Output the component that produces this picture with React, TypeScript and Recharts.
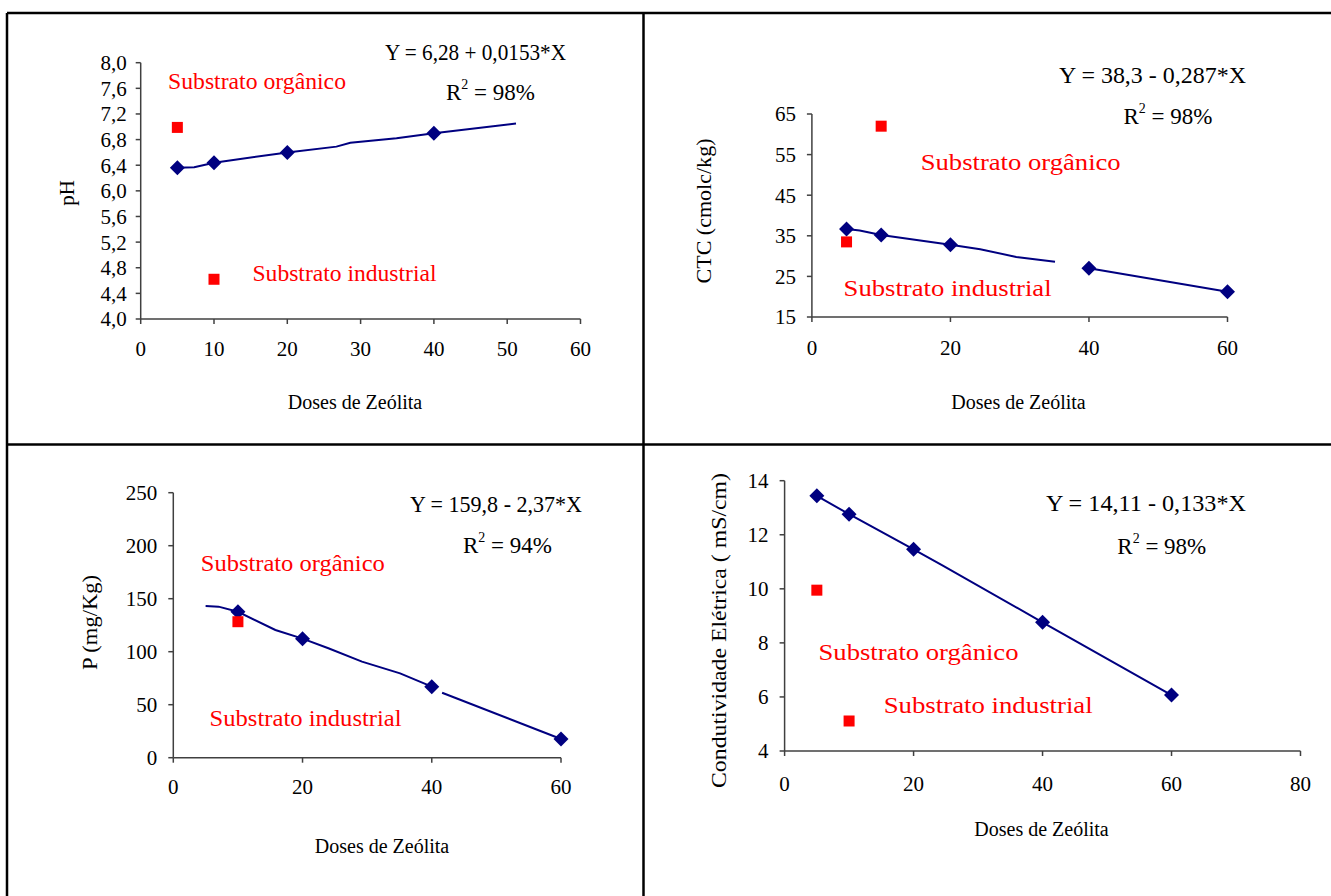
import { Scatter, ScatterChart, XAxis, YAxis } from "recharts";

const NAVY = "#000080";
const RED = "#ff0000";
const SERIF = "'Times New Roman', 'Liberation Serif', serif";

// pH
const phDoses = [5, 10, 20, 40];
const phValues = [6.36, 6.44, 6.6, 6.9];
const phRefDoses = [5, 10];
const phRefValues = [6.99, 4.62];
const phFitX = [5, 7.3, 10, 20, 26.7, 28.6, 34.9, 40, 51.2];
const phFitY = [6.36, 6.37, 6.44, 6.6, 6.69, 6.75, 6.82, 6.9, 7.05];
const phTicksY = [4, 4.4, 4.8, 5.2, 5.6, 6, 6.4, 6.8, 7.2, 7.6, 8];
const phTicksX = [0, 10, 20, 30, 40, 50, 60];

// CTC
const ctcDoses = [5, 10, 20, 40, 60];
const ctcValues = [36.7, 35.2, 32.8, 27.0, 21.2];
const ctcRefDoses = [5, 10];
const ctcRefValues = [33.5, 62.0];
const ctcFitX = [5, 6.9, 10, 20, 24.3, 29.5, 35.1];
const ctcFitY = [36.7, 36.3, 35.2, 32.8, 31.7, 29.8, 28.6];
const ctcFit2X = [40, 60];
const ctcFit2Y = [27.0, 21.2];
const ctcTicksY = [15, 25, 35, 45, 55, 65];
const ctcTicksX = [0, 20, 40, 60];

// P
const pDoses = [10, 20, 40, 60];
const pValues = [137.7, 112.3, 67.0, 17.6];
const pRefDoses = [10];
const pRefValues = [128.3];
const pFitX = [5, 7, 10, 15.8, 20, 24, 29.2, 35.1, 40];
const pFitY = [143, 142.5, 137.7, 120.5, 112.3, 103.2, 90.6, 79.6, 67.0];
const pFit2X = [41.6, 60];
const pFit2Y = [61.3, 17.6];
const pTicksY = [0, 50, 100, 150, 200, 250];
const pTicksX = [0, 20, 40, 60];

// Condutividade elétrica
const ceDoses = [5, 10, 20, 40, 60];
const ceValues = [13.44, 12.76, 11.46, 8.76, 6.07];
const ceRefDoses = [5, 10];
const ceRefValues = [9.95, 5.11];
const ceFitX = [5, 10, 20, 24.4, 40, 60];
const ceFitY = [13.44, 12.76, 11.46, 10.88, 8.76, 6.07];
const ceTicksY = [4, 6, 8, 10, 12, 14];
const ceTicksX = [0, 20, 40, 60, 80];

type Pt = { x: number; y: number };

const zip = (xs: number[], ys: number[]): Pt[] =>
  xs.map((x, i) => ({ x, y: ys[i] }));

const Diamond = (props: any) => {
  const { cx, cy } = props;
  const r = 7.5;
  return (
    <polygon
      points={`${cx},${cy - r} ${cx + r},${cy} ${cx},${cy + r} ${cx - r},${cy}`}
      fill={NAVY}
    />
  );
};

const Square = (props: any) => {
  const { cx, cy } = props;
  return <rect x={cx - 5.5} y={cy - 5.5} width={11} height={11} fill={RED} />;
};

const NoDot = () => <g />;

type PanelProps = {
  box: [number, number, number, number];
  plot: [number, number, number, number];
  xTicks: number[];
  yTicks: number[];
  yFormat?: (v: number) => string;
  fits: Pt[][];
  means: Pt[];
  refs: Pt[];
  yMargin: number;
  xMargin: number;
};

const Y_AXIS_W = 60;
const X_AXIS_H = 40;

function Panel({
  box,
  plot,
  xTicks,
  yTicks,
  yFormat,
  fits,
  means,
  refs,
  yMargin,
  xMargin,
}: PanelProps) {
  const [bx, by, bw, bh] = box;
  const [pl, pr, pt, pb] = plot;
  const margin = {
    left: pl - bx - Y_AXIS_W,
    right: bx + bw - pr,
    top: pt - by,
    bottom: by + bh - pb - X_AXIS_H,
  };
  const tick = { fill: "#000", fontSize: 21, fontFamily: SERIF };
  const axisLine = { stroke: "#404040", strokeWidth: 1.5 };
  return (
    <div style={{ position: "absolute", left: bx, top: by }}>
      <ScatterChart width={bw} height={bh} margin={margin}>
        <XAxis
          type="number"
          dataKey="x"
          domain={[xTicks[0], xTicks[xTicks.length - 1]]}
          ticks={xTicks}
          interval={0}
          height={X_AXIS_H}
          tick={tick}
          tickSize={5}
          tickMargin={xMargin}
          axisLine={axisLine}
          tickLine={axisLine}
        />
        <YAxis
          type="number"
          dataKey="y"
          domain={[yTicks[0], yTicks[yTicks.length - 1]]}
          ticks={yTicks}
          interval={0}
          width={Y_AXIS_W}
          tick={tick}
          tickSize={5}
          tickMargin={yMargin}
          tickFormatter={yFormat}
          axisLine={axisLine}
          tickLine={axisLine}
        />
        {fits.map((fit, i) => (
          <Scatter
            key={`fit-${i}`}
            data={fit}
            fill={NAVY}
            line={{ stroke: NAVY, strokeWidth: 2 }}
            lineType="joint"
            shape={NoDot}
            isAnimationActive={false}
          />
        ))}
        <Scatter
          data={means}
          fill={NAVY}
          shape={Diamond}
          isAnimationActive={false}
        />
        <Scatter
          data={refs}
          fill={RED}
          shape={Square}
          isAnimationActive={false}
        />
      </ScatterChart>
    </div>
  );
}

function Equation({ x, y, text, len }: { x: number; y: number; text: string; len: number }) {
  return (
    <text
      x={x}
      y={y}
      fontSize={24}
      fontFamily={SERIF}
      fill="#000"
      textLength={len}
      lengthAdjust="spacingAndGlyphs"
    >
      {text}
    </text>
  );
}

function RSquared({ x, y, value }: { x: number; y: number; value: string }) {
  return (
    <text x={x} y={y} fontSize={23} fontFamily={SERIF} fill="#000">
      R
      <tspan dy={-11} fontSize={14}>
        2
      </tspan>
      <tspan dy={11}>{` = ${value}`}</tspan>
    </text>
  );
}

function RedLabel({ x, y, text, len }: { x: number; y: number; text: string; len: number }) {
  return (
    <text
      x={x}
      y={y}
      fontSize={24}
      fontFamily={SERIF}
      fill={RED}
      textLength={len}
      lengthAdjust="spacingAndGlyphs"
    >
      {text}
    </text>
  );
}

function AxisTitle({ x, y, text }: { x: number; y: number; text: string }) {
  return (
    <text x={x} y={y} fontSize={20} fontFamily={SERIF} fill="#000" textAnchor="middle">
      {text}
    </text>
  );
}

function YTitle({ x, y, text, len }: { x: number; y: number; text: string; len?: number }) {
  return (
    <text
      x={0}
      y={0}
      transform={`translate(${x},${y}) rotate(-90)`}
      fontSize={21}
      fontFamily={SERIF}
      fill="#000"
      textAnchor="middle"
      dominantBaseline="central"
      textLength={len}
      lengthAdjust={len ? "spacingAndGlyphs" : undefined}
    >
      {text}
    </text>
  );
}

const comma1 = (v: number) => v.toFixed(1).replace(".", ",");

export default function App() {
  return (
    <div
      style={{
        position: "absolute",
        left: 0,
        top: 0,
        width: 1331,
        height: 896,
        background: "#fff",
        overflow: "hidden",
      }}
    >
      <Panel
        box={[0, 0, 644, 444]}
        plot={[140.7, 580.5, 62.7, 319]}
        xTicks={phTicksX}
        yTicks={phTicksY}
        yFormat={comma1}
        fits={[zip(phFitX, phFitY)]}
        means={zip(phDoses, phValues)}
        refs={zip(phRefDoses, phRefValues)}
        yMargin={9}
        xMargin={17}
      />
      <Panel
        box={[644, 0, 687, 444]}
        plot={[811.9, 1227.5, 114, 317]}
        xTicks={ctcTicksX}
        yTicks={ctcTicksY}
        fits={[zip(ctcFitX, ctcFitY), zip(ctcFit2X, ctcFit2Y)]}
        means={zip(ctcDoses, ctcValues)}
        refs={zip(ctcRefDoses, ctcRefValues)}
        yMargin={11}
        xMargin={18}
      />
      <Panel
        box={[0, 444, 644, 452]}
        plot={[173.3, 561, 492.7, 757.7]}
        xTicks={pTicksX}
        yTicks={pTicksY}
        fits={[zip(pFitX, pFitY), zip(pFit2X, pFit2Y)]}
        means={zip(pDoses, pValues)}
        refs={zip(pRefDoses, pRefValues)}
        yMargin={11}
        xMargin={16}
      />
      <Panel
        box={[644, 444, 687, 452]}
        plot={[784.6, 1300.5, 480.7, 751]}
        xTicks={ceTicksX}
        yTicks={ceTicksY}
        fits={[zip(ceFitX, ceFitY)]}
        means={zip(ceDoses, ceValues)}
        refs={zip(ceRefDoses, ceRefValues)}
        yMargin={11}
        xMargin={20}
      />

      <svg
        width={1331}
        height={896}
        style={{ position: "absolute", left: 0, top: 0, pointerEvents: "none" }}
      >
        {/* frame around the four panels */}
        <g stroke="#000" strokeWidth={2.5}>
          <line x1={7} y1={13} x2={1331} y2={13} />
          <line x1={7} y1={13} x2={7} y2={896} />
          <line x1={643.5} y1={13} x2={643.5} y2={896} />
          <line x1={7} y1={444.5} x2={1331} y2={444.5} />
        </g>

        <Equation x={385} y={60} text="Y = 6,28 + 0,0153*X" len={181} />
        <RSquared x={446} y={100} value="98%" />
        <RedLabel x={168} y={89} text="Substrato orgânico" len={178} />
        <RedLabel x={252.5} y={281} text="Substrato industrial" len={184} />
        <YTitle x={67} y={193} text="pH" />
        <AxisTitle x={355} y={409} text="Doses de Zeólita" />

        <Equation x={1059} y={83} text="Y = 38,3 - 0,287*X" len={187} />
        <RSquared x={1123.5} y={124} value="98%" />
        <RedLabel x={920.7} y={170} text="Substrato orgânico" len={200} />
        <RedLabel x={843.6} y={296} text="Substrato industrial" len={208} />
        <YTitle x={704} y={211} text="CTC (cmolc/kg)" len={145} />
        <AxisTitle x={1018.5} y={409} text="Doses de Zeólita" />

        <Equation x={410} y={511.7} text="Y = 159,8 - 2,37*X" len={172} />
        <RSquared x={463} y={552.7} value="94%" />
        <RedLabel x={200.8} y={571} text="Substrato orgânico" len={184} />
        <RedLabel x={209.6} y={725.7} text="Substrato industrial" len={192} />
        <YTitle x={89.6} y={622.5} text="P (mg/Kg)" len={95} />
        <AxisTitle x={382} y={852.7} text="Doses de Zeólita" />

        <Equation x={1046} y={511} text="Y = 14,11 - 0,133*X" len={200} />
        <RSquared x={1117.3} y={554.3} value="98%" />
        <RedLabel x={818.5} y={660} text="Substrato orgânico" len={200} />
        <RedLabel x={883.7} y={712.7} text="Substrato industrial" len={209} />
        <YTitle x={719.3} y={630.5} text="Condutividade Elétrica ( mS/cm)" len={315} />
        <AxisTitle x={1041.5} y={835.7} text="Doses de Zeólita" />
      </svg>
    </div>
  );
}
